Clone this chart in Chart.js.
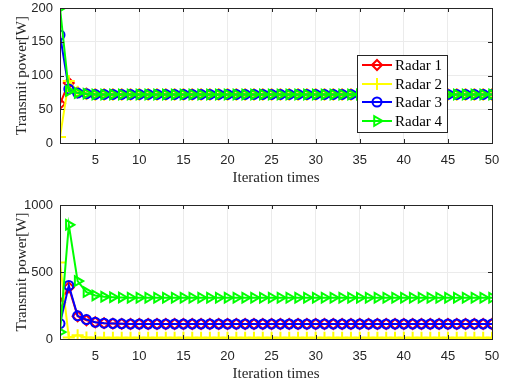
<!DOCTYPE html>
<html>
<head>
<meta charset="utf-8">
<script src="https://cdn.jsdelivr.net/npm/chart.js@4.4.0/dist/chart.umd.min.js"></script>
<style>
  html, body { margin: 0; padding: 0; background: #fff; }
  #wrap { position: relative; width: 506px; height: 391px; }
  canvas { position: absolute; left: 0; }
</style>
</head>
<body>
<div id="wrap">
  <canvas id="top_chart" width="506" height="195" style="top:0"></canvas>
  <canvas id="bottom_chart" width="506" height="196" style="top:195px"></canvas>
</div>
<script>
// Iteration index (x axis)
const iterations = [1,2,3,4,5,6,7,8,9,10,11,12,13,14,15,16,17,18,19,20,21,22,23,24,25,
  26,27,28,29,30,31,32,33,34,35,36,37,38,39,40,41,42,43,44,45,46,47,48,49,50];
const xTicks = [5,10,15,20,25,30,35,40,45,50];
const radarNames = ['Radar 1', 'Radar 2', 'Radar 3', 'Radar 4'];

// Top panel
const top_r1 = [58,89,75,73,72,72,72,72,72,72,72,72,72,72,72,72,72,72,72,72,72,72,72,72,72,
  72,72,72,72,72,72,72,72,72,72,72,72,72,72,72,72,72,72,72,72,72,72,72,72,72];
const top_r2 = [9,92,76,73,72,72,72,72,72,72,72,72,72,72,72,72,72,72,72,72,72,72,72,72,72,
  72,72,72,72,72,72,72,72,72,72,72,72,72,72,72,72,72,72,72,72,72,72,72,72,72];
const top_r3 = [160,80,74,73,72,72,72,72,72,72,72,72,72,72,72,72,72,72,72,72,72,72,72,72,72,
  72,72,72,72,72,72,72,72,72,72,72,72,72,72,72,72,72,72,72,72,72,72,72,72,72];
const top_r4 = [200,77,74,73,72,72,72,72,72,72,72,72,72,72,72,72,72,72,72,72,72,72,72,72,72,
  72,72,72,72,72,72,72,72,72,72,72,72,72,72,72,72,72,72,72,72,72,72,72,72,72];
const topYTicks = [0,50,100,150,200];

// Bottom panel
const bot_r1 = [272,385,170,140,125,118,115,113,112,112,112,112,112,112,112,112,112,112,112,112,112,112,112,112,112,
  112,112,112,112,112,112,112,112,112,112,112,112,112,112,112,112,112,112,112,112,112,112,112,112,112];
const bot_r2 = [570,12,28,12,10,10,10,10,10,10,10,10,10,10,10,10,10,10,10,10,10,10,10,10,10,
  10,10,10,10,10,10,10,10,10,10,10,10,10,10,10,10,10,10,10,10,10,10,10,10,10];
const bot_r3 = [115,400,173,145,125,118,115,113,112,112,112,112,112,112,112,112,112,112,112,112,112,112,112,112,112,
  112,112,112,112,112,112,112,112,112,112,112,112,112,112,112,112,112,112,112,112,112,112,112,112,112];
const bot_r4 = [52,852,432,350,325,315,312,310,308,308,308,308,308,308,308,308,308,308,308,308,308,308,308,308,308,
  308,308,308,308,308,308,308,308,308,308,308,308,308,308,308,308,308,308,308,308,308,308,308,308,308];
const botYTicks = [0,500,1000];

const styles = [
  { color: '#ff0000', pointStyle: 'rectRot', radius: 5, rotation: 0, fill: 'rgba(0,0,0,0)' },
  { color: '#ffff00', pointStyle: 'cross', radius: 6, rotation: 0, fill: 'rgba(0,0,0,0)' },
  { color: '#0000ff', pointStyle: 'circle', radius: 4.5, rotation: 0, fill: 'rgba(0,0,0,0)' },
  { color: '#00ff00', pointStyle: 'triangle', radius: 5.5, rotation: 90, fill: 'rgba(0,0,0,0)' }
];

const SERIF = "'Liberation Serif', 'Times New Roman', serif";
const SANS = "'Liberation Sans', Arial, sans-serif";
const TXT = '#262626';

function makeDatasets(series) {
  return series.map(function(vals, i) {
    let s = styles[i];
    return {
      label: radarNames[i],
      data: iterations.map(function(x, k) { return { x: x, y: vals[k] }; }),
      borderColor: s.color,
      backgroundColor: s.color,
      borderWidth: 2,
      pointStyle: s.pointStyle,
      pointRadius: s.radius,
      pointRotation: s.rotation,
      pointBorderColor: s.color,
      pointBackgroundColor: s.fill,
      pointBorderWidth: 2,
      order: 3 - i,
      tension: 0
    };
  });
}

// box + inward tick marks like matlab
const boxPlugin = {
  id: 'box',
  afterDraw: function(chart) {
    let c = chart.ctx, a = chart.chartArea;
    let xs = chart.scales.x, ys = chart.scales.y;
    c.save();
    c.strokeStyle = TXT;
    c.lineWidth = 1;
    c.beginPath();
    for (let t of xTicks) {
      let px = Math.round(xs.getPixelForValue(t)) + 0.5;
      c.moveTo(px, a.bottom); c.lineTo(px, a.bottom - 4);
      c.moveTo(px, a.top); c.lineTo(px, a.top + 4);
    }
    for (let t of ys.ticks) {
      let py = Math.round(ys.getPixelForValue(t.value)) + 0.5;
      c.moveTo(a.left, py); c.lineTo(a.left + 4, py);
      c.moveTo(a.right, py); c.lineTo(a.right - 4, py);
    }
    c.stroke();
    c.strokeRect(Math.round(a.left) + 0.5, Math.round(a.top) + 0.5,
      Math.round(a.right - a.left), Math.round(a.bottom - a.top));
    c.restore();
  }
};

const legendPlugin = {
  id: 'boxLegend',
  afterDraw: function(chart, args, opts) {
    if (!opts.show) return;
    let c = chart.ctx;
    c.save();
    c.fillStyle = '#fff';
    c.fillRect(357, 55, 90, 77);
    c.strokeStyle = TXT;
    c.lineWidth = 1;
    c.strokeRect(357.5, 55.5, 90, 77);
    let rowY = [65, 84, 102, 121];
    chart.data.datasets.forEach(function(ds, i) {
      let y = rowY[i];
      c.strokeStyle = ds.borderColor;
      c.lineWidth = 2;
      c.beginPath();
      c.moveTo(362, y); c.lineTo(392, y);
      c.stroke();
      c.fillStyle = ds.pointBackgroundColor;
      Chart.helpers.drawPoint(c, {
        pointStyle: ds.pointStyle, radius: ds.pointRadius,
        rotation: ds.pointRotation, borderWidth: 2
      }, 377, y);
      c.fillStyle = '#000';
      c.font = '15px ' + SERIF;
      c.textBaseline = 'middle';
      c.fillText(ds.label, 395, y + 1);
    });
    c.restore();
  }
};

function makeOptions(yMax, yTicks, padTop, showLegend) {
  return {
    responsive: false,
    animation: false,
    devicePixelRatio: 1,
    layout: { padding: { top: padTop, right: 14, left: 0, bottom: 0 } },
    plugins: {
      legend: { display: false },
      tooltip: { enabled: false },
      boxLegend: { show: showLegend }
    },
    scales: {
      x: {
        type: 'linear',
        min: 1, max: 50,
        afterFit: function(s) { s.height = 52; s.paddingLeft = 0; s.paddingRight = 0; },
        afterBuildTicks: function(s) { s.ticks = xTicks.map(function(v) { return { value: v }; }); },
        grid: { color: '#ebebeb', drawTicks: false },
        border: { display: false },
        ticks: { padding: 11, color: TXT, font: { family: SANS, size: 13, lineHeight: 1 }, maxRotation: 0 },
        title: { display: true, text: 'Iteration times', color: TXT,
          font: { family: SERIF, size: 15 }, padding: { top: 0, bottom: 8 } }
      },
      y: {
        min: 0, max: yMax,
        afterFit: function(s) { s.width = 60; s.paddingTop = 0; s.paddingBottom = 0; },
        afterBuildTicks: function(s) { s.ticks = yTicks.map(function(v) { return { value: v }; }); },
        grid: { color: '#ebebeb', drawTicks: false },
        border: { display: false },
        ticks: { padding: 7, color: TXT, font: { family: SANS, size: 13, lineHeight: 1 },
          callback: function(v) { return String(v); } },
        title: { display: true, text: 'Transmit power[W]', color: TXT,
          font: { family: SERIF, size: 15 }, padding: { top: 13, bottom: 0 } }
      }
    }
  };
}

var chartTop = new Chart(document.getElementById('top_chart').getContext('2d'), {
  type: 'line',
  data: { datasets: makeDatasets([top_r1, top_r2, top_r3, top_r4]) },
  options: makeOptions(200, topYTicks, 6, true),
  plugins: [boxPlugin, legendPlugin]
});

var chartBottom = new Chart(document.getElementById('bottom_chart').getContext('2d'), {
  type: 'line',
  data: { datasets: makeDatasets([bot_r1, bot_r2, bot_r3, bot_r4]) },
  options: makeOptions(1000, botYTicks, 10, false),
  plugins: [boxPlugin, legendPlugin]
});
</script>
</body>
</html>
